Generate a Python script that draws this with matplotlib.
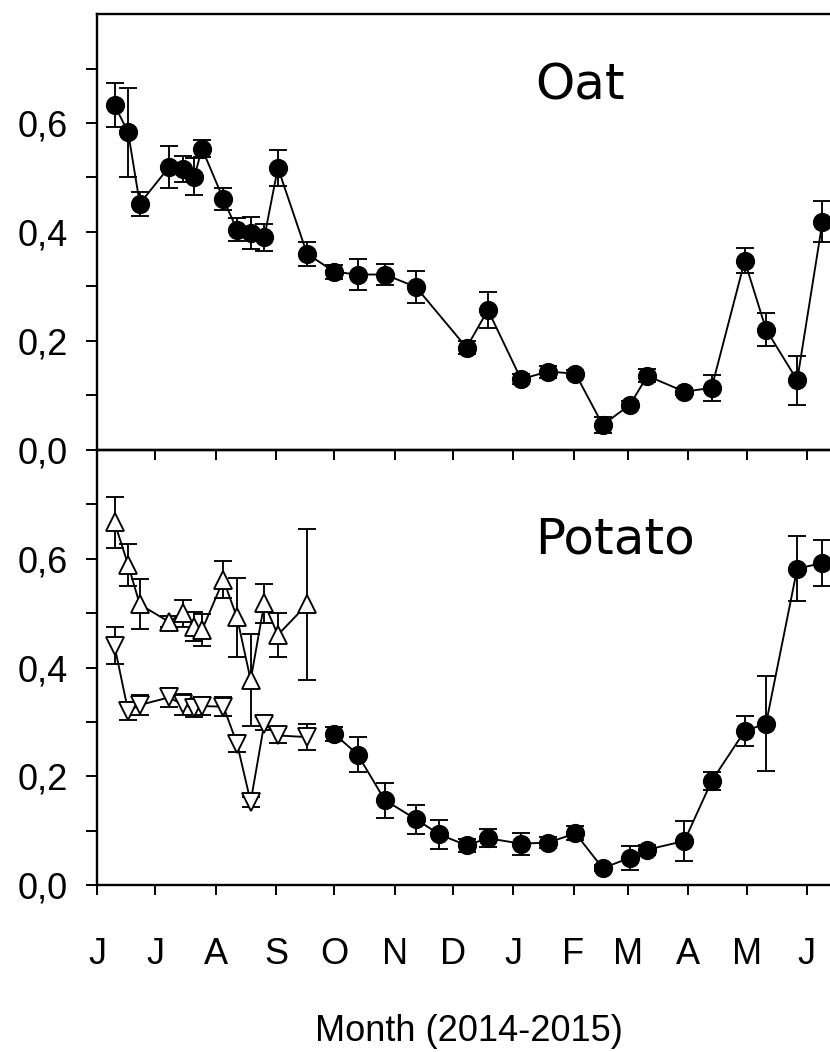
import numpy as np
import matplotlib
matplotlib.use("Agg")
import matplotlib.pyplot as plt
from matplotlib.ticker import FixedLocator, FuncFormatter

plt.rcParams['font.family'] = ['Liberation Sans', 'DejaVu Sans']

# sampling dates
early_dates = ['2014-06-10', '2014-06-17', '2014-06-23', '2014-07-08', '2014-07-15',
               '2014-07-21', '2014-07-25', '2014-08-05', '2014-08-12', '2014-08-19',
               '2014-08-26', '2014-09-02', '2014-09-17']
oat_late_dates = ['2014-10-01', '2014-10-13', '2014-10-27', '2014-11-12', '2014-12-08',
                  '2014-12-19', '2015-01-05', '2015-01-19', '2015-02-02', '2015-02-16',
                  '2015-03-02', '2015-03-11', '2015-03-30', '2015-04-13', '2015-04-30',
                  '2015-05-11', '2015-05-27', '2015-06-09']
pot_late_dates = ['2014-10-01', '2014-10-13', '2014-10-27', '2014-11-12', '2014-11-24',
                  '2014-12-08', '2014-12-19', '2015-01-05', '2015-01-19', '2015-02-02',
                  '2015-02-16', '2015-03-02', '2015-03-11', '2015-03-30', '2015-04-13',
                  '2015-04-30', '2015-05-11', '2015-05-27', '2015-06-09']

# oat
oat_mean = [0.633, 0.583, 0.452, 0.519, 0.515, 0.501, 0.553, 0.460, 0.404, 0.398,
            0.390, 0.518, 0.360, 0.327, 0.322, 0.322, 0.299, 0.188, 0.257, 0.130,
            0.144, 0.140, 0.046, 0.083, 0.136, 0.107, 0.114, 0.347, 0.221, 0.128,
            0.419]
oat_se = [0.040, 0.082, 0.022, 0.039, 0.024, 0.034, 0.015, 0.020, 0.021, 0.030,
          0.025, 0.033, 0.022, 0.013, 0.029, 0.019, 0.030, 0.012, 0.033, 0.009,
          0.011, 0.006, 0.015, 0.006, 0.012, 0.007, 0.024, 0.023, 0.030, 0.045,
          0.038]

# potato, two treatments until harvest, then one series
pot_up_mean = [0.667, 0.589, 0.516, 0.484, 0.500, 0.475, 0.469, 0.561, 0.492, 0.377,
               0.518, 0.460, 0.516]
pot_up_se = [0.047, 0.039, 0.046, 0.010, 0.025, 0.027, 0.030, 0.034, 0.073, 0.085,
             0.036, 0.041, 0.139]
pot_down_mean = [0.440, 0.320, 0.331, 0.345, 0.332, 0.325, 0.329, 0.328, 0.260, 0.153,
                 0.297, 0.275, 0.272]
pot_down_se = [0.034, 0.016, 0.018, 0.017, 0.020, 0.016, 0.016, 0.017, 0.016, 0.009,
               0.012, 0.013, 0.024]
pot_mean = [0.278, 0.240, 0.156, 0.121, 0.093, 0.073, 0.086, 0.076, 0.078, 0.095,
            0.031, 0.050, 0.065, 0.081, 0.191, 0.283, 0.297, 0.582, 0.592]
pot_se = [0.013, 0.033, 0.032, 0.027, 0.026, 0.012, 0.017, 0.020, 0.010, 0.013,
          0.005, 0.022, 0.009, 0.037, 0.017, 0.028, 0.087, 0.060, 0.043]

month_starts = ['2014-06-01', '2014-07-01', '2014-08-01', '2014-09-01', '2014-10-01',
                '2014-11-01', '2014-12-01', '2015-01-01', '2015-02-01', '2015-03-01',
                '2015-04-01', '2015-05-01', '2015-06-01']
month_labels = ['J', 'J', 'A', 'S', 'O', 'N', 'D', 'J', 'F', 'M', 'A', 'M', 'J']

t0 = np.datetime64('2014-06-01')


def days(d):
    return (np.array(d, dtype='datetime64[D]') - t0).astype(int)


W, H = 830, 1052
fig = plt.figure(figsize=(W / 100, H / 100), dpi=100)
left = 97 / W
width = 743 / W
ax1 = fig.add_axes([left, 1 - 450 / H, width, 436 / H])
ax2 = fig.add_axes([left, 1 - 885 / H, width, 435 / H])
ax2.patch.set_visible(False)

lw = 1.35
ebkw = dict(fmt='none', ecolor='black', elinewidth=lw, capsize=6.5, capthick=lw, zorder=2)


def series(ax, x, y, e, marker, face):
    ax.errorbar(x, y, yerr=e, **ebkw)
    ax.plot(x, y, color='black', lw=lw, marker=marker, ms=12.5,
            mfc=face, mec='black', mew=lw, zorder=3)


x_early = days(early_dates)
series(ax1, np.concatenate([x_early, days(oat_late_dates)]), oat_mean, oat_se, 'o', 'black')
series(ax2, x_early, pot_up_mean, pot_up_se, '^', 'white')
series(ax2, x_early, pot_down_mean, pot_down_se, 'v', 'white')
series(ax2, days(pot_late_dates), pot_mean, pot_se, 'o', 'black')

fmt = FuncFormatter(lambda v, p: f'{v:.1f}'.replace('.', ','))
for ax in (ax1, ax2):
    ax.set_xlim(0, 743 / 1.945)
    ax.set_ylim(0, 0.8)
    ax.spines['right'].set_visible(False)
    for s in ax.spines.values():
        s.set_linewidth(1.7)
    ax.xaxis.set_major_locator(FixedLocator(days(month_starts)))
    ax.yaxis.set_major_locator(FixedLocator([0, 0.2, 0.4, 0.6]))
    ax.yaxis.set_minor_locator(FixedLocator([0.1, 0.3, 0.5, 0.7]))
    ax.yaxis.set_major_formatter(fmt)
    ax.tick_params(axis='y', which='both', direction='out', length=8, width=1.4,
                   labelsize=26, pad=13)
    ax.tick_params(axis='x', direction='out', length=7.5, width=1.4, labelsize=26, pad=30)

ax1.set_xticklabels([])
ax2.set_xticklabels(month_labels)
ax2.set_xlabel('Month (2014-2015)', fontsize=26, labelpad=30)

ax1.text(0.5895, 0.803, 'Oat', transform=ax1.transAxes, fontsize=36,
         family='DejaVu Sans', ha='left', va='baseline')
ax2.text(0.5895, 0.763, 'Potato', transform=ax2.transAxes, fontsize=36,
         family='DejaVu Sans', ha='left', va='baseline')

fig.savefig('out.png', dpi=100)
